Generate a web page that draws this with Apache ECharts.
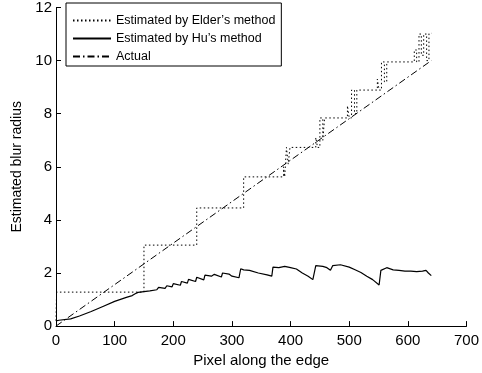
<!DOCTYPE html>
<html>
<head>
<meta charset="utf-8">
<script src="https://cdn.jsdelivr.net/npm/echarts@6/dist/echarts.min.js"></script>
<style>
  html, body { margin: 0; padding: 0; background: #fff; }
  #chart { width: 482px; height: 373px; }
</style>
</head>
<body>
<div id="chart"></div>
<script>
// Estimated by Elder's method (noisy step function) [pixel, radius]
var elderData = [
    [0, 0.2], [1, 1.28], [150, 1.28], [150, 3.05], [240, 3.05], [240, 4.45],
    [320, 4.45], [320, 5.62], [388, 5.62],
    [388, 6.0], [390, 6.0], [390, 5.62], [393, 5.62], [393, 6.73], [396, 6.73],
    [396, 6.1], [399, 6.1], [399, 6.73], [443, 6.73],
    [443, 7.1], [446, 7.1], [446, 6.73], [450, 6.73], [450, 7.84], [455, 7.84],
    [455, 7.0], [458, 7.0], [458, 7.84], [497, 7.84],
    [497, 8.3], [500, 8.3], [500, 7.84], [504, 7.84], [504, 8.89], [509, 8.89],
    [509, 8.0], [513, 8.0], [513, 8.89], [548, 8.89],
    [548, 9.3], [551, 9.3], [551, 8.89], [555, 8.89], [555, 9.95], [560, 9.95],
    [560, 9.2], [564, 9.2], [564, 9.95], [611, 9.95],
    [611, 10.4], [615, 10.4], [615, 9.95], [619, 9.95], [619, 11.0], [623, 11.0],
    [623, 10.2], [627, 10.2], [627, 11.0], [632, 11.0], [632, 10.0], [636, 10.0],
    [636, 11.03], [640, 11.03]
];

// Estimated by Hu's method [pixel, radius]
var huData = [
    [0, 0.2], [5, 0.22], [25, 0.27], [40, 0.38], [60, 0.55], [80, 0.74], [100, 0.93],
    [120, 1.08], [130, 1.15], [135, 1.22], [138, 1.17], [140, 1.27], [142, 1.22],
    [150, 1.3], [152, 1.36], [160, 1.33], [163, 1.4], [172, 1.37], [175, 1.46],
    [186, 1.42], [189, 1.52], [198, 1.48], [200, 1.6], [212, 1.54], [214, 1.68],
    [224, 1.62], [226, 1.76], [238, 1.68], [240, 1.84], [252, 1.74], [254, 1.92],
    [265, 1.88], [270, 1.95], [282, 1.85], [284, 2.0], [295, 1.96], [300, 1.88],
    [312, 1.82], [315, 2.16], [320, 2.12], [330, 2.1], [345, 2.0], [360, 1.93],
    [368, 1.88], [370, 2.22], [380, 2.2], [390, 2.25], [400, 2.2], [410, 2.15],
    [420, 2.0], [430, 1.88], [438, 1.75], [443, 2.28], [455, 2.25], [462, 2.2],
    [468, 2.1], [472, 2.28], [485, 2.31], [500, 2.22], [510, 2.12], [520, 2.02],
    [530, 1.88], [540, 1.75], [551, 1.55], [554, 2.1], [564, 2.2], [575, 2.12],
    [585, 2.1], [595, 2.07], [605, 2.07], [615, 2.05], [625, 2.07], [631, 2.1],
    [635, 2.0], [640, 1.9]
];

// Actual blur radius
var actualData = [[0, 0], [640, 10]];

var xTicks = { min: 0, max: 700, interval: 100 };
var yTicks = { min: 0, max: 12, interval: 2 };

var dom = document.getElementById("chart");
var myChart = echarts.init(dom);
var font = 'Liberation Sans, Arial, sans-serif';

option = {
    animation: false,
    textStyle: { fontFamily: font },
    grid: { left: 56, right: 15, top: 6, bottom: 43 },
    legend: {
        orient: 'vertical',
        left: 66,
        top: 3,
        padding: [11, 6, 3, 6],
        itemGap: 5,
        itemWidth: 38,
        itemHeight: 14,
        backgroundColor: '#fff',
        borderColor: '#000',
        borderWidth: 1,
        borderRadius: 0,
        itemStyle: { color: 'transparent', borderWidth: 0 },
        textStyle: { fontSize: 12.5, color: '#000', fontFamily: font },
        data: ["Estimated by Elder\u2019s method", "Estimated by Hu\u2019s method", 'Actual']
    },
    xAxis: {
        type: 'value',
        min: xTicks.min, max: xTicks.max, interval: xTicks.interval,
        name: 'Pixel along the edge',
        nameLocation: 'middle',
        nameGap: 21,
        nameTextStyle: { fontSize: 15, color: '#000' },
        axisLine: { lineStyle: { color: '#000', width: 1 } },
        axisTick: { inside: true, length: 5, lineStyle: { color: '#000' } },
        axisLabel: { fontSize: 15, color: '#000', margin: 7 },
        splitLine: { show: false }
    },
    yAxis: {
        type: 'value',
        min: yTicks.min, max: yTicks.max, interval: yTicks.interval,
        name: 'Estimated blur radius',
        nameLocation: 'middle',
        nameGap: 30,
        nameTextStyle: { fontSize: 14, color: '#000' },
        axisLine: { show: true, lineStyle: { color: '#000', width: 1 } },
        axisTick: { show: true, inside: true, length: 5, lineStyle: { color: '#000' } },
        axisLabel: { fontSize: 15, color: '#000', margin: 4 },
        splitLine: { show: false }
    },
    series: [
        {
            name: "Estimated by Elder\u2019s method",
            type: 'line',
            symbol: 'none',
            data: elderData,
            lineStyle: { color: '#000', width: 1, type: [1.5, 2.5] },
            itemStyle: { color: '#000' }
        },
        {
            name: "Estimated by Hu\u2019s method",
            type: 'line',
            symbol: 'none',
            data: huData,
            lineStyle: { color: '#000', width: 1.2, type: 'solid' },
            itemStyle: { color: '#000' }
        },
        {
            name: 'Actual',
            type: 'line',
            symbol: 'none',
            data: actualData,
            lineStyle: { color: '#000', width: 1, type: [7, 3, 1.5, 3] },
            itemStyle: { color: '#000' }
        }
    ]
};
myChart.setOption(option, true);
</script>
</body>
</html>
